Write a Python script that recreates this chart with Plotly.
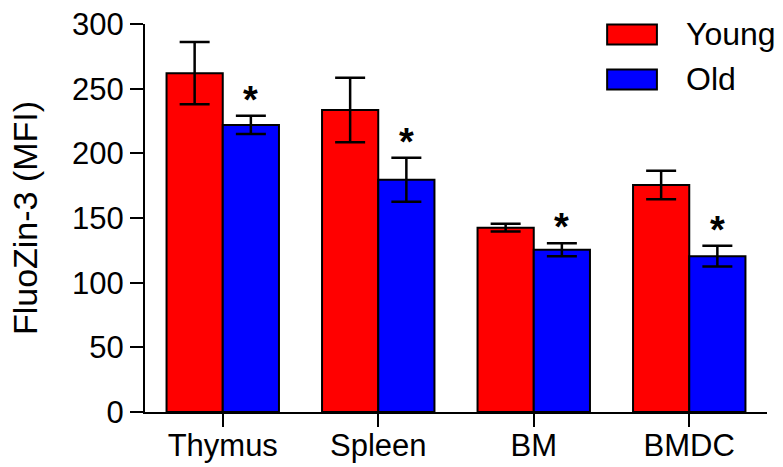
import plotly.graph_objects as go

categories = ["Thymus", "Spleen", "BM", "BMDC"]
young = [262, 233.5, 142.5, 175.5]
young_err = [24, 25, 3, 11]
old = [222, 179.5, 125.5, 120.5]
old_err = [7, 17, 5, 8]
sig_old = ["*", "*", "*", "*"]
series_names = ["Young", "Old"]
y_ticks = [0, 50, 100, 150, 200, 250, 300]

FONT = "Liberation Sans, Arial, Helvetica, sans-serif"
RED = "#ff0000"
BLUE = "#0000ff"
BARGAP = 0.277

fig = go.Figure()
for name, vals, errs, col in [(series_names[0], young, young_err, RED),
                              (series_names[1], old, old_err, BLUE)]:
    fig.add_trace(go.Bar(
        x=categories, y=vals, name=name,
        marker=dict(color=col, line=dict(color="black", width=2)),
        error_y=dict(type="data", array=errs, visible=True,
                     color="black", thickness=2.5, width=15),
        showlegend=False,
    ))

# significance asterisks above the Old bars
half = (1 - BARGAP) / 4
for i, (v, e, s) in enumerate(zip(old, old_err, sig_old)):
    fig.add_annotation(x=i + half, y=v + e, xref="x", yref="y",
                       text="<b>" + s + "</b>", showarrow=False, yanchor="bottom",
                       yshift=-7,
                       font=dict(family=FONT, size=38, color="black"))

# manual legend
leg_x0, leg_x1, leg_tx = 0.743, 0.823, 0.866
for (name, col, yc) in [(series_names[0], RED, 0.973), (series_names[1], BLUE, 0.857)]:
    fig.add_shape(type="rect", xref="paper", yref="paper",
                  x0=leg_x0, x1=leg_x1, y0=yc - 0.026, y1=yc + 0.026,
                  fillcolor=col, line=dict(color="black", width=2))
    fig.add_annotation(x=leg_tx, y=yc, xref="paper", yref="paper",
                       text=name, showarrow=False, xanchor="left", yanchor="middle",
                       font=dict(family=FONT, size=32, color="black"))

fig.update_layout(
    width=783, height=467,
    margin=dict(l=145, r=16, t=24, b=55),
    paper_bgcolor="white", plot_bgcolor="white",
    barmode="group", bargap=BARGAP, bargroupgap=0,
    font=dict(family=FONT, color="black"),
)
fig.update_xaxes(
    type="category", range=[-0.5, 3.5], automargin=False,
    showline=True, linecolor="black", linewidth=2,
    ticks="outside", ticklen=13, tickwidth=2, tickcolor="black",
    tickfont=dict(family=FONT, size=31, color="black"),
    ticklabelstandoff=-8,
    showgrid=False, zeroline=False,
)
fig.update_yaxes(
    range=[0, 300], tickvals=y_ticks, automargin=False,
    showline=True, linecolor="black", linewidth=2,
    ticks="outside", ticklen=13, tickwidth=2, tickcolor="black",
    tickfont=dict(family=FONT, size=31, color="black"),
    title=dict(text="FluoZin-3 (MFI)", font=dict(family=FONT, size=34, color="black"), standoff=24),
    showgrid=False, zeroline=False,
)

fig.write_html("out.html")
